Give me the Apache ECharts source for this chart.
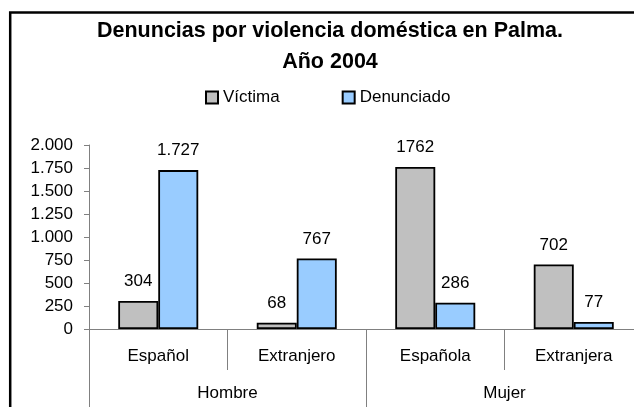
<!DOCTYPE html>
<html>
<head>
<meta charset="utf-8">
<script src="https://cdn.jsdelivr.net/npm/echarts@6/dist/echarts.min.js"></script>
<style>
  html, body { margin: 0; padding: 0; overflow: hidden; background: #fff; }
  #chart { width: 660px; height: 407px; }
</style>
</head>
<body>
<div id="chart"></div>
<script>
// datos
var categorias = ['Español', 'Extranjero', 'Española', 'Extranjera'];
var grupos = ['Hombre', 'Mujer'];
var victima = [304, 68, 1762, 702];
var denunciado = [1727, 767, 286, 77];
// etiquetas tal como aparecen sobre las barras
var victimaEtiquetas = ['304', '68', '1762', '702'];
var denunciadoEtiquetas = ['1.727', '767', '286', '77'];

var fuente = '"Liberation Sans", Arial, sans-serif';

function miles(v) {
  if (v >= 1000) {
    return Math.floor(v / 1000) + '.' + String(v % 1000).padStart(3, '0');
  }
  return String(v);
}

var chart = echarts.init(document.getElementById('chart'));

var option = {
  animation: false,
  backgroundColor: '#fff',
  textStyle: { fontFamily: fuente, color: '#000' },
  title: {
    text: 'Denuncias por violencia doméstica en Palma.\nAño 2004',
    left: 'center',
    top: 16,
    padding: 0,
    textStyle: {
      fontFamily: fuente,
      fontSize: 21.5,
      fontWeight: 'bold',
      color: '#000',
      lineHeight: 31
    }
  },
  legend: {
    data: ['Víctima', 'Denunciado'],
    left: 205,
    top: 89,
    padding: 0,
    itemGap: 62,
    itemWidth: 12,
    itemHeight: 12,
    icon: 'rect',
    textStyle: { fontFamily: fuente, fontSize: 17, color: '#000' }
  },
  graphic: [{
    type: 'rect',
    z: 100,
    shape: { x: 10.2, y: 12.5, width: 700, height: 500 },
    style: { fill: 'none', stroke: '#000', lineWidth: 2.5 }
  }],
  grid: { left: 89, top: 145, right: 17, height: 184 },
  xAxis: [
    {
      type: 'category',
      data: categorias,
      position: 'bottom',
      axisLine: { lineStyle: { color: '#808080', width: 1 } },
      axisTick: { show: true, interval: 0, length: 41, lineStyle: { color: '#808080' } },
      axisLabel: { interval: 0, margin: 19, fontSize: 17, color: '#000', fontFamily: fuente }
    },
    {
      type: 'category',
      data: grupos,
      position: 'bottom',
      offset: 41,
      axisLine: { show: false },
      axisTick: { show: true, interval: 0, length: 40, lineStyle: { color: '#808080' } },
      axisLabel: { interval: 0, margin: 15, fontSize: 17, color: '#000', fontFamily: fuente }
    }
  ],
  yAxis: {
    type: 'value',
    min: 0,
    max: 2000,
    interval: 250,
    axisLine: { show: true, lineStyle: { color: '#808080', width: 1 } },
    axisTick: { show: true, length: 5, lineStyle: { color: '#808080' } },
    splitLine: { show: false },
    axisLabel: { margin: 16, fontSize: 17, color: '#000', fontFamily: fuente, formatter: miles }
  },
  series: [
    {
      name: 'Víctima',
      type: 'bar',
      xAxisIndex: 0,
      data: victima,
      barWidth: 40,
      barGap: '0%',
      itemStyle: { color: '#C0C0C0', borderColor: '#000', borderWidth: 1.8 },
      label: {
        show: true,
        position: 'top',
        distance: 11,
        fontSize: 17,
        color: '#000',
        fontFamily: fuente,
        formatter: function (p) { return victimaEtiquetas[p.dataIndex]; }
      }
    },
    {
      name: 'Denunciado',
      type: 'bar',
      xAxisIndex: 0,
      data: denunciado,
      barWidth: 40,
      barGap: '0%',
      itemStyle: { color: '#99CCFF', borderColor: '#000', borderWidth: 1.8 },
      label: {
        show: true,
        position: 'top',
        distance: 11,
        fontSize: 17,
        color: '#000',
        fontFamily: fuente,
        formatter: function (p) { return denunciadoEtiquetas[p.dataIndex]; }
      }
    }
  ]
};

chart.setOption(option);
</script>
</body>
</html>
